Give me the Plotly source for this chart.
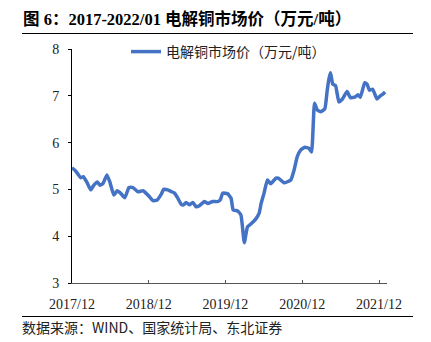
import plotly.graph_objects as go

dates = [
    "2017-12-01", "2017-12-15", "2017-12-29", "2018-01-11", "2018-01-24", "2018-02-09",
    "2018-02-28", "2018-03-15", "2018-03-31", "2018-04-13", "2018-04-28", "2018-05-16",
    "2018-05-30", "2018-06-18", "2018-07-04", "2018-07-20", "2018-08-09", "2018-08-29",
    "2018-09-17", "2018-10-11", "2018-11-04", "2018-11-27", "2018-12-21", "2019-01-09",
    "2019-01-30", "2019-02-10", "2019-03-02", "2019-03-20", "2019-04-03", "2019-04-19",
    "2019-05-05", "2019-05-16", "2019-05-28", "2019-06-13", "2019-06-29", "2019-07-15",
    "2019-07-30", "2019-08-23", "2019-09-08", "2019-10-01", "2019-10-25", "2019-11-07",
    "2019-11-18", "2019-12-11", "2019-12-28", "2020-01-07", "2020-01-28", "2020-02-13",
    "2020-02-29", "2020-03-15", "2020-03-31", "2020-04-24", "2020-05-10", "2020-05-19",
    "2020-06-02", "2020-06-18", "2020-07-04", "2020-07-28", "2020-08-09", "2020-09-05",
    "2020-10-07", "2020-10-22", "2020-11-07", "2020-11-23", "2020-12-13", "2021-01-01",
    "2021-01-14", "2021-01-28", "2021-02-10", "2021-02-27", "2021-03-18", "2021-03-29",
    "2021-04-06", "2021-04-14", "2021-04-25", "2021-05-08", "2021-05-24", "2021-06-08",
    "2021-07-02", "2021-07-18", "2021-08-07", "2021-08-23", "2021-09-03", "2021-09-24",
    "2021-10-05", "2021-10-16", "2021-11-01", "2021-11-21", "2021-12-07", "2021-12-18",
    "2021-12-30",
]
prices = [
    5.46, 5.41, 5.33, 5.25, 5.27, 5.16,
    4.99, 5.09, 5.16, 5.09, 5.13, 5.31,
    5.16, 4.88, 4.97, 4.92, 4.82, 5.04,
    5.04, 4.95, 4.97, 4.88, 4.76, 4.77,
    4.90, 5.00, 4.99, 4.95, 4.92, 4.81,
    4.68, 4.67, 4.72, 4.67, 4.72, 4.63,
    4.65, 4.74, 4.70, 4.74, 4.74, 4.78,
    4.92, 4.91, 4.81, 4.56, 4.54, 4.45,
    3.86, 4.20, 4.26, 4.37, 4.50, 4.70,
    4.92, 5.20, 5.12, 5.24, 5.24, 5.14,
    5.20, 5.40, 5.70, 5.84, 5.90, 5.88,
    5.80, 6.84, 6.70, 6.66, 6.72, 7.10,
    7.34, 7.49, 7.25, 7.22, 6.87, 6.92,
    7.09, 6.96, 6.97, 7.02, 6.97, 7.28,
    7.25, 7.12, 7.14, 6.93, 7.00, 7.03,
    7.08,
]
tick_dates = ["2017-12-01", "2018-12-01", "2019-12-01", "2020-12-01", "2021-12-01"]
tick_labels = ["2017/12", "2018/12", "2019/12", "2020/12", "2021/12"]
series_name = "电解铜市场价（万元/吨）"
title_text = "图 6：2017-2022/01 电解铜市场价（万元/吨）"
source_text = "数据来源：WIND、国家统计局、东北证券"

W, H = 431, 342
L, R, T, B = 72, 44, 49, 59
PW, PH = W - L - R, H - T - B

def px(x):
    return (x - L) / PW

def py(y):
    return (H - B - y) / PH

SERIF = "Liberation Serif, Noto Sans CJK SC, serif"
SANS = "Noto Sans CJK SC, sans-serif"

fig = go.Figure()
fig.add_trace(go.Scatter(
    x=dates, y=prices, mode="lines", name=series_name,
    line=dict(color="#4472C4", width=3.5, shape="spline", smoothing=0.4),
))

fig.update_layout(
    width=W, height=H,
    margin=dict(l=L, r=R, t=T, b=B),
    paper_bgcolor="white", plot_bgcolor="white",
    showlegend=True,
    legend=dict(
        x=px(126), y=py(52), xanchor="left", yanchor="middle",
        orientation="h", bgcolor="rgba(0,0,0,0)",
        font=dict(family=SANS, size=14, color="#222"),
        itemwidth=30,
    ),
    xaxis=dict(
        type="date", range=["2017-12-01", "2022-01-08"],
        tickvals=tick_dates, ticktext=tick_labels,
        showgrid=False, zeroline=False,
        showline=True, linecolor="#555", linewidth=1,
        ticks="inside", ticklen=3, tickcolor="#555",
        tickfont=dict(family=SERIF, size=14, color="#222"),
        ticklabelstandoff=8,
    ),
    yaxis=dict(
        range=[3, 8], dtick=1,
        showgrid=False, zeroline=False,
        showline=True, linecolor="#000", linewidth=1,
        ticks="outside", ticklen=3, tickcolor="#000",
        tickfont=dict(family=SERIF, size=14, color="#222"),
        ticklabelstandoff=6,
    ),
    shapes=[
        dict(type="line", xref="paper", yref="paper",
             x0=px(22), x1=px(413), y0=py(33.5), y1=py(33.5),
             line=dict(color="#000", width=1.2)),
        dict(type="line", xref="paper", yref="paper",
             x0=px(22), x1=px(413), y0=py(316.5), y1=py(316.5),
             line=dict(color="#000", width=1)),
    ],
    annotations=[
        dict(text="<b>" + title_text + "</b>", xref="paper", yref="paper",
             x=px(21), y=py(19), xanchor="left", yanchor="middle", showarrow=False,
             font=dict(family=SERIF, size=16.5, color="#000")),
        dict(text=source_text, xref="paper", yref="paper",
             x=px(20), y=py(327), xanchor="left", yanchor="middle", showarrow=False,
             font=dict(family=SANS, size=14, color="#222")),
    ],
)

fig.write_html("out.html")
